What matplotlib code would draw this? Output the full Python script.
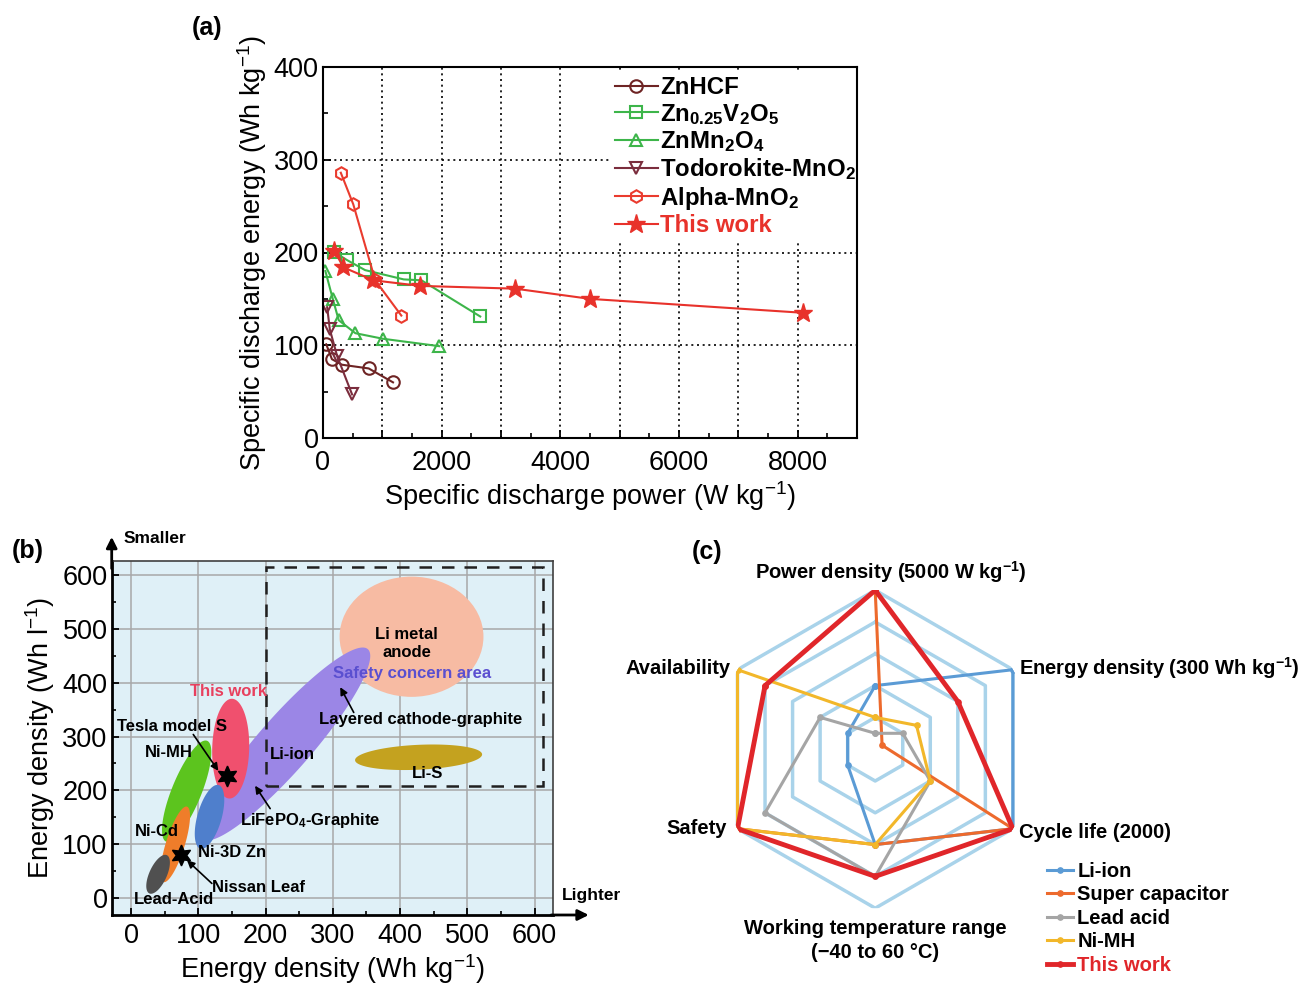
import numpy as np
import matplotlib
matplotlib.use('Agg')
import matplotlib.pyplot as plt
from matplotlib.patches import Ellipse, Rectangle
from matplotlib.ticker import MultipleLocator, FuncFormatter

plt.rcParams['font.family'] = ['Liberation Sans', 'DejaVu Sans']
plt.rcParams['mathtext.fontset'] = 'custom'
plt.rcParams['mathtext.rm'] = 'Liberation Sans'
plt.rcParams['mathtext.it'] = 'Liberation Sans:italic'
plt.rcParams['mathtext.bf'] = 'Liberation Sans:bold'

# ---- (a) specific energy vs power
znhcf_p = [55, 150, 320, 770, 1180]
znhcf_e = [101, 85, 79, 75, 60]
znv_p = [180, 400, 710, 1360, 1660, 2650]
znv_e = [201, 192, 181, 171, 170, 131]
znmn_p = [40, 165, 265, 545, 1010, 1960]
znmn_e = [180, 150, 127, 113, 107, 99]
todo_p = [70, 115, 240, 490]
todo_e = [141, 117, 88, 47]
alpha_p = [300, 510, 880, 1320]
alpha_e = [286, 252, 170, 132]
this_p = [190, 345, 850, 1640, 3240, 4500, 8090]
this_e = [202, 184, 170, 164, 161, 150, 135]

# ---- (b) Ragone-type map: regions as ellipses (end points + thickness)
tilted_names = ['Li-ion', 'This work', 'Ni-3D Zn', 'Ni-MH', 'Ni-Cd', 'Lead-Acid', 'Li-S']
tilted_x1 = [105, 146, 103, 52, 48, 27, 333]
tilted_y1 = [110, 185, 92, 105, 30, 9, 256]
tilted_x2 = [352, 150, 130, 113, 83, 53, 522]
tilted_y2 = [462, 370, 210, 292, 170, 80, 267]
tilted_w = [80, 55, 36, 44, 28, 26, 37]
tilted_col = ['#9b86e6', '#f0506e', '#4f7fcc', '#5cc41e', '#ef7d2a', '#505050', '#c4a21f']
li_metal = (417, 485, 214, 223)
tesla = (142, 226)
nissan = (74, 80)

# ---- (c) radar
radar_axes = [r'Power density (5000 W kg$^{\mathbf{-1}}$)',
              r'Energy density (300 Wh kg$^{\mathbf{-1}}$)',
              'Cycle life (2000)',
              'Working temperature range\n(\u221240 to 60 \u00b0C)',
              'Safety', 'Availability']
radar_series = ['Li-ion', 'Super capacitor', 'Lead acid', 'Ni-MH', 'This work']
li_ion = [0.4, 1.0, 1.0, 0.6, 0.2, 0.2]
super_cap = [1.0, 0.05, 1.0, 0.6, 1.0, 0.8]
lead_acid = [0.1, 0.2, 0.4, 0.8, 0.8, 0.4]
ni_mh = [0.2, 0.3, 0.4, 0.6, 1.0, 1.0]
this_work = [1.0, 0.6, 1.0, 0.8, 1.0, 0.8]
radar_col = ['#5b9bd5', '#ed6a2d', '#a5a5a5', '#f2b72a', '#e0262a']

W, H = 1306, 984
fig = plt.figure(figsize=(W / 100, H / 100), dpi=100)


def rect(l, t, r, b):
    return [l / W, 1 - b / H, (r - l) / W, (b - t) / H]


# ================= (a)
axa = fig.add_axes(rect(323, 67, 857, 438))
maroon = '#6e2424'
green = '#3db54a'
red = '#e8322b'
kw = dict(lw=1.5, ms=9, mew=1.5, mfc='none')
axa.plot(znhcf_p, znhcf_e, '-o', color=maroon, label='ZnHCF', **kw)
axa.plot(znv_p, znv_e, '-s', color=green, label=r'Zn$_{\mathbf{0.25}}$V$_{\mathbf{2}}$O$_{\mathbf{5}}$', **kw)
axa.plot(znmn_p, znmn_e, '-^', color=green, label=r'ZnMn$_{\mathbf{2}}$O$_{\mathbf{4}}$', **kw)
axa.plot(todo_p, todo_e, '-v', color='#7b2d3d', label=r'Todorokite-MnO$_{\mathbf{2}}$', **kw)
axa.plot(alpha_p, alpha_e, '-h', color='#ea3b2e', label=r'Alpha-MnO$_{\mathbf{2}}$', **kw)
axa.plot(this_p, this_e, '-*', color=red, lw=1.5, ms=14, label='This work')
axa.set_xlim(0, 9000)
axa.set_ylim(0, 400)
axa.xaxis.set_major_locator(MultipleLocator(1000))
axa.xaxis.set_minor_locator(MultipleLocator(500))
axa.xaxis.set_major_formatter(FuncFormatter(lambda v, p: f'{v:.0f}' if v % 2000 == 0 else ''))
axa.yaxis.set_major_locator(MultipleLocator(100))
axa.yaxis.set_minor_locator(MultipleLocator(50))
axa.tick_params(direction='in', labelsize=19.5, length=6, width=1.3, pad=3)
axa.tick_params(axis='x', pad=9)
axa.tick_params(which='minor', direction='in', length=3.5, width=1.2)
axa.grid(True, which='major', color='black', ls=(0, (1.2, 2.2)), lw=1.2)
for s in axa.spines.values():
    s.set_linewidth(1.5)
axa.set_xlabel('Specific discharge power (W kg$^{-1}$)', fontsize=19.5, labelpad=2)
axa.set_ylabel('Specific discharge energy (Wh kg$^{-1}$)', fontsize=19.5, labelpad=3)
leg = axa.legend(loc='upper left', bbox_to_anchor=(0.515, 1.02), frameon=True,
                 facecolor='white', edgecolor='none', framealpha=1, fancybox=False,
                 prop={'size': 17.3, 'weight': 'bold'}, handlelength=1.8,
                 handletextpad=0.08, labelspacing=0.1, borderpad=0.2)
leg.set_zorder(2.4)
leg.get_texts()[-1].set_color(red)
fig.text(207 / W, 1 - 28 / H, '(a)', fontsize=18, fontweight='bold', ha='center', va='center')

# ================= (b)
axb = fig.add_axes(rect(111.7, 560.7, 552.7, 915))
axb.set_facecolor('#dff0f7')
axb.set_xlim(-29, 627)
axb.set_ylim(-31, 626)
axb.xaxis.set_major_locator(MultipleLocator(100))
axb.xaxis.set_minor_locator(MultipleLocator(50))
axb.yaxis.set_major_locator(MultipleLocator(100))
axb.yaxis.set_minor_locator(MultipleLocator(50))
axb.tick_params(direction='in', labelsize=19.5, length=5, width=1.3, pad=3)
axb.tick_params(axis='x', pad=6)
axb.tick_params(which='minor', direction='in', length=3, width=1.2)
axb.grid(True, color='#a8a8a8', lw=1.1)
axb.set_axisbelow(True)
for side in ['top', 'right']:
    axb.spines[side].set_color('#404040')
    axb.spines[side].set_linewidth(1.2)
for side in ['left', 'bottom']:
    axb.spines[side].set_linewidth(2)

bb = axb.get_position()
k = (bb.height * H / (626 + 31)) / (bb.width * W / (627 + 29))


def add_region(ax, x1, y1, x2, y2, thick, color):
    t = np.linspace(0, 2 * np.pi, 150)
    Y1, Y2 = y1 * k, y2 * k
    cx, cy = (x1 + x2) / 2, (Y1 + Y2) / 2
    a = np.hypot(x2 - x1, Y2 - Y1) / 2
    ang = np.arctan2(Y2 - Y1, x2 - x1)
    b = thick / 2
    px = cx + a * np.cos(t) * np.cos(ang) - b * np.sin(t) * np.sin(ang)
    py = cy + a * np.cos(t) * np.sin(ang) + b * np.sin(t) * np.cos(ang)
    ax.fill(px, py / k, color=color, lw=0, zorder=2)


axb.add_patch(Ellipse(li_metal[:2], li_metal[2], li_metal[3], color='#f7bba3', lw=0, zorder=2))
for i in [6, 0, 1, 2, 3, 4, 5]:
    add_region(axb, tilted_x1[i], tilted_y1[i], tilted_x2[i], tilted_y2[i], tilted_w[i], tilted_col[i])
axb.add_patch(Rectangle((200, 208), 413, 407, fill=False, ls=(0, (5, 4)), lw=1.8,
                        edgecolor='#202020', zorder=3))
axb.plot(*tesla, marker=(6, 1, 0), color='black', ms=15, zorder=5)
axb.plot(*nissan, marker=(6, 1, 0), color='black', ms=15, zorder=5)

tb = dict(fontsize=12, fontweight='bold', ha='center', va='center', zorder=6)
axb.text(410, 473, 'Li metal\nanode', linespacing=1.25, **tb)
axb.text(418, 416, 'Safety concern area', color='#5a4fd0', **tb)
axb.text(145, 383, 'This work', color='#e8405e', **tb)
axb.text(431, 331, 'Layered cathode-graphite', **tb)
axb.text(60, 318, 'Tesla model S', **tb)
axb.text(56, 270, 'Ni-MH', **tb)
axb.text(240, 266, 'Li-ion', **tb)
axb.text(441, 232, 'Li-S', **tb)
axb.text(266, 144, r'LiFePO$_{\mathbf{4}}$-Graphite', **tb)
axb.text(38, 124, 'Ni-Cd', **tb)
axb.text(150, 84, 'Ni-3D Zn', **tb)
axb.text(189, 20, 'Nissan Leaf', **tb)
axb.text(63, -3, 'Lead-Acid', **tb)
ap = dict(arrowstyle='-|>', color='black', lw=1.2, mutation_scale=11)
axb.annotate('', xy=(309, 396), xytext=(333, 340), arrowprops=ap, zorder=6)
axb.annotate('', xy=(132, 232), xytext=(90, 308), arrowprops=ap, zorder=6)
axb.annotate('', xy=(182, 213), xytext=(209, 162), arrowprops=ap, zorder=6)
axb.annotate('', xy=(80, 74), xytext=(123, 24), arrowprops=ap, zorder=6)

# axis arrows
arr = dict(arrowstyle='-|>', color='black', lw=2, mutation_scale=16)
axb.annotate('', xy=(0, 1.075), xycoords='axes fraction', xytext=(0, 0.97),
             arrowprops=arr, annotation_clip=False)
axb.annotate('', xy=(1.088, 0), xycoords='axes fraction', xytext=(0.99, 0),
             arrowprops=arr, annotation_clip=False)
axb.text(0.026, 1.064, 'Smaller', transform=axb.transAxes, fontsize=12.5,
         fontweight='bold', ha='left', va='center')
axb.text(1.021, 0.054, 'Lighter', transform=axb.transAxes, fontsize=12.5,
         fontweight='bold', ha='left', va='center')
axb.set_xlabel('Energy density (Wh kg$^{-1}$)', fontsize=19.5, labelpad=2)
axb.set_ylabel('Energy density (Wh l$^{-1}$)', fontsize=19.5, labelpad=4)
fig.text(28 / W, 1 - 551 / H, '(b)', fontsize=18, fontweight='bold', ha='center', va='center')

# ================= (c)
R = 159
cx, cy = 875.2, 749.2
axc = fig.add_axes(rect(cx - R, cy - R, cx + R, cy + R), projection='polar')
axc.set_theta_offset(np.pi / 2)
axc.set_theta_direction(-1)
axc.set_ylim(0, 1)
axc.axis('off')
theta = np.deg2rad(np.arange(0, 360, 60))
theta_c = np.append(theta, theta[0])
for r in [0.2, 0.4, 0.6, 0.8, 1.0]:
    axc.plot(theta_c, [r] * 7, color='#a9d3ea', lw=2.5, zorder=1)
handles = []
for name, vals, col in zip(radar_series, [li_ion, super_cap, lead_acid, ni_mh, this_work], radar_col):
    lw = 3.5 if name == 'This work' else 2.2
    h, = axc.plot(theta_c, vals + vals[:1], color=col, lw=lw, marker='o', ms=3.8,
                  zorder=3 if name != 'This work' else 4, label=name)
    handles.append(h)

lab = dict(fontsize=14.5, fontweight='bold', textcoords='offset points',
           annotation_clip=False, va='center')
axc.annotate(radar_axes[0], xy=(theta[0], 1), xytext=(11, 13), ha='center', **lab)
axc.annotate(radar_axes[1], xy=(theta[1], 1), xytext=(4.5, 1), ha='left', **lab)
axc.annotate(radar_axes[2], xy=(theta[2], 1), xytext=(4.5, -2.5), ha='left', **lab)
axc.annotate(radar_axes[3], xy=(theta[3], 1), xytext=(0, -23), ha='center',
             linespacing=1.35, **lab)
axc.annotate(radar_axes[4], xy=(theta[4], 1), xytext=(-8, 0), ha='right', **lab)
axc.annotate(radar_axes[5], xy=(theta[5], 1), xytext=(-5, 1), ha='right', **lab)
legc = fig.legend(handles=handles, loc='upper left', bbox_to_anchor=(1037 / W, 1 - 852 / H),
                  frameon=False, prop={'size': 14.5, 'weight': 'bold'}, handlelength=1.3,
                  handletextpad=0.2, labelspacing=0.22, borderpad=0)
legc.get_texts()[-1].set_color('#e0262a')
fig.text(707 / W, 1 - 552 / H, '(c)', fontsize=18, fontweight='bold', ha='center', va='center')

fig.savefig('out.png', dpi=100)
